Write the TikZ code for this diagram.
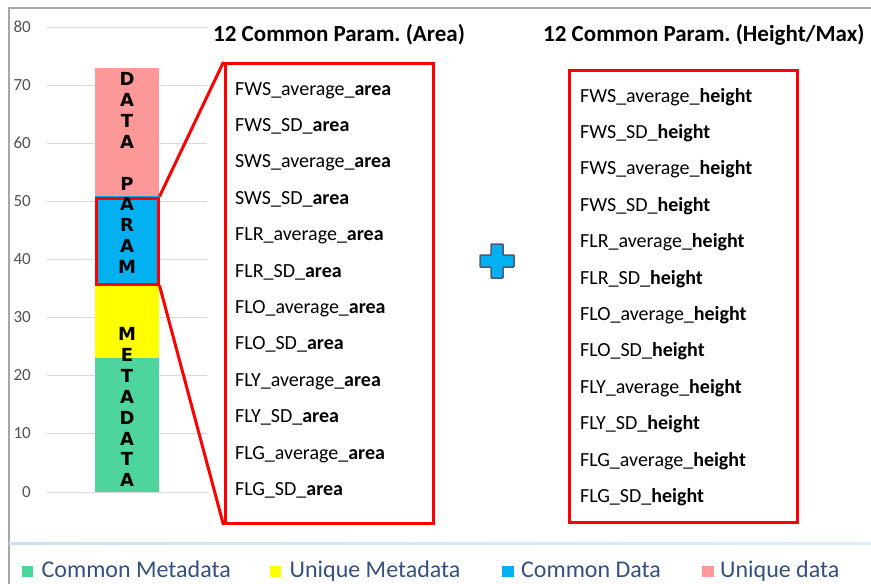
\documentclass[tikz,border=0pt]{standalone}
\usepackage{fontspec}
\setmainfont{Carlito}
\newfontfamily\letterfont{DejaVu Sans Bold}
\usetikzlibrary{positioning}
\frenchspacing
\definecolor{barpink}{HTML}{FF9999}
\definecolor{barblue}{HTML}{00B0F0}
\definecolor{baryellow}{HTML}{FFFF00}
\definecolor{bargreen}{HTML}{4DD59D}
\definecolor{boxred}{HTML}{FF0000}
\definecolor{legendtext}{HTML}{34507F}
\definecolor{sepblue}{HTML}{2E8BD3}
\definecolor{plusedge}{HTML}{4A5A78}
\tikzset{
  frame/.style={draw=black!35, line width=1.2pt},
  gridline/.style={draw=black!15, line width=1pt},
  ticklabel/.style={font=\fontsize{17}{18}\selectfont, text=black!68, inner sep=0, anchor=base east},
  barletter/.style={font=\fontsize{18}{20}\selectfont\letterfont, inner sep=0},
  redbox/.style={draw=boxred, line width=3pt, inner sep=0},
  redline/.style={draw=boxred, line width=3pt},
  coltitle/.style={font=\bfseries\fontsize{23}{26}\selectfont, inner sep=0, anchor=base west},
  item/.style={font=\fontsize{20}{24}\selectfont, inner sep=0, anchor=base west},
  legsq/.style={minimum size=11.5pt, inner sep=0},
  legtext/.style={font=\fontsize{24}{26}\selectfont, text=legendtext, inner sep=0}
}

\begin{document}
\begin{tikzpicture}[x=1pt,y=-1pt]
    \useasboundingbox (0,0) rectangle (871,584);

    % chart frame and grid
    \draw[frame] (871,8) -- (9,8) -- (9,584);
    \foreach \v in {0,10,...,80}{
      \draw[gridline] (47,{492-5.8125*\v}) -- (207,{492-5.8125*\v});
      \node[ticklabel] (tick\v) at (31,{497-5.8125*\v}) {\v};
    }

    % stacked bar
    \fill[bargreen] (95,492) rectangle (159,{492-5.8125*23});
    \fill[baryellow] (95,{492-5.8125*23}) rectangle (159,{492-5.8125*36});
    \fill[barblue] (95,{492-5.8125*36}) rectangle (159,{492-5.8125*51});
    \fill[barpink] (95,{492-5.8125*51}) rectangle (159,{492-5.8125*73});

    \node[redbox, minimum width=62pt, minimum height=86pt] (parambox) at (127,241) {};

    \foreach \ch/\k in {D/0,A/1,T/2,A/3,P/5,A/6,R/7,A/8,M/9}
      \node[barletter] (dp\k) at (127,{79+20.9*\k}) {\ch};
    \foreach \ch/\k in {M/0,E/1,T/2,A/3,D/4,A/5,T/6,A/7}
      \node[barletter] (md\k) at (127,{334+20.9*\k}) {\ch};

    % parameter boxes
    \node[redbox, minimum width=208pt, minimum height=460pt] (areabox) at (329,293.5) {};
    \node[redbox, minimum width=228pt, minimum height=452pt] (heightbox) at (683.5,296) {};
    \draw[redline] (parambox.north east) -- (areabox.north west);
    \draw[redline] (parambox.south east) -- (areabox.south west);

    \node[coltitle] (titlearea) at (213,41) {12 Common Param. (Area)};
    \node[coltitle] (titleheight) at (543,41) {12 Common Param. (Height/Max)};

    \foreach \n [count=\i from 0] in {FWS\_average,FWS\_SD,SWS\_average,SWS\_SD,FLR\_average,FLR\_SD,FLO\_average,FLO\_SD,FLY\_average,FLY\_SD,FLG\_average,FLG\_SD}
      \node[item] (area\i) at (235,{95+36.4*\i}) {\n\_\textbf{area}};
    \foreach \n [count=\i from 0] in {FWS\_average,FWS\_SD,FWS\_average,FWS\_SD,FLR\_average,FLR\_SD,FLO\_average,FLO\_SD,FLY\_average,FLY\_SD,FLG\_average,FLG\_SD}
      \node[item] (height\i) at (580,{102+36.4*\i}) {\n\_\textbf{height}};

    % plus sign
    \filldraw[fill=barblue, draw=plusedge, line width=1.5pt, rounded corners=0.8pt]
      (497,261) ++(-6,-17) -- ++(12,0) -- ++(0,11) -- ++(11,0) -- ++(0,12) -- ++(-11,0)
      -- ++(0,11) -- ++(-12,0) -- ++(0,-11) -- ++(-11,0) -- ++(0,-12) -- ++(11,0) -- cycle;

    % legend
    \shade[left color=sepblue!25, middle color=sepblue, right color=sepblue!15] (9,542) rectangle (871,544.5);
    \node[legsq, fill=bargreen] (sqcm) at (27.5,571.5) {};
    \node[legtext, right=8pt of sqcm.south east, anchor=base west] (lgcm) {Common Metadata};
    \node[legsq, fill=baryellow] (squm) at (275.5,571.5) {};
    \node[legtext, right=8pt of squm.south east, anchor=base west] (lgum) {Unique Metadata};
    \node[legsq, fill=barblue] (sqcd) at (508,571.5) {};
    \node[legtext, right=7pt of sqcd.south east, anchor=base west] (lgcd) {Common Data};
    \node[legsq, fill=barpink] (squd) at (708,571.5) {};
    \node[legtext, right=6pt of squd.south east, anchor=base west] (lgud) {Unique data};
\end{tikzpicture}
\end{document}
